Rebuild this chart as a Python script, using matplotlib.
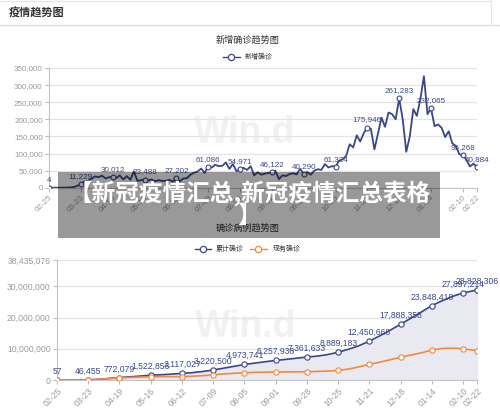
import numpy as np
import pandas as pd
import matplotlib
matplotlib.use('Agg')
import matplotlib.pyplot as plt
from matplotlib.patches import Rectangle

plt.rcParams['font.family'] = ['Liberation Sans', 'Noto Sans CJK SC']

# ---- data ----
# daily new cases, sampled every 3 days from 2020-02-25
new_cases = [
    4, 1, 20, 70, 120, 400, 800, 1800, 5500, 11229,
    18000, 20000, 26000, 33000, 31000, 35000, 27000, 31000, 30012, 28000,
    36000, 24000, 34000, 23000, 48000, 20000, 22000, 23488, 21000, 24000,
    19000, 22000, 20000, 20000, 23000, 18000, 27202, 19000, 27000, 28000,
    38000, 44000, 47000, 56000, 43000, 61086, 59000, 67000, 63000, 64000,
    74000, 55000, 69000, 48000, 54971, 58000, 52000, 63000, 36000, 45000,
    38000, 41000, 43000, 46122, 50000, 25000, 36000, 34000, 40000, 42000,
    39000, 55000, 40290, 46000, 38000, 50000, 54000, 52000, 69000, 59000,
    63000, 61324, 79000, 83000, 93000, 127000, 118000, 153000, 135000, 160000,
    175946, 172000, 112000, 158000, 205000, 178000, 220000, 215000, 200000, 261283,
    200000, 105000, 150000, 230000, 210000, 260000, 326000, 215000, 232065, 180000,
    185000, 175000, 148000, 165000, 130000, 122000, 98000, 95268, 82000, 62000,
    70000, 60884]

# cumulative / active cases, sampled every 9 days, last point 2021-02-22
total_cases = [
    57, 200, 2700, 46455, 210000, 500000, 772079, 1020000, 1260000, 1522853,
    1690000, 1870000, 2117027, 2350000, 2720000, 3220500, 3780000, 4380000, 4973741, 5420000,
    5850000, 6257938, 6620000, 6980000, 7361633, 7650000, 8150000, 8889183, 9850000, 11000000,
    12450668, 14150000, 15950000, 17888358, 19800000, 21800000, 23848410, 25400000, 26800000, 27897214,
    28828306]
active_cases = [
    50, 190, 2500, 45000, 190000, 450000, 620000, 820000, 950000, 1050000,
    1100000, 1050000, 1100000, 1200000, 1400000, 1620000, 1950000, 2150000, 2300000, 2450000,
    2500000, 2600000, 2600000, 2620000, 2650000, 2750000, 2850000, 3050000, 3500000, 4200000,
    5000000, 5700000, 6500000, 7300000, 8000000, 8700000, 9600000, 10100000, 10200000, 10000000,
    9400000]

tick_labels = ['02-25', '03-23', '04-19', '05-16', '06-12', '07-09', '08-05', '09-01',
               '09-28', '10-25', '11-21', '12-18', '01-14', '02-10', '02-22']
top_yticks = [0, 50000, 100000, 150000, 200000, 250000, 300000, 350000]
bottom_yticks = [0, 10000000, 20000000, 30000000, 38435076]

top_dates = pd.date_range('2020-02-25', periods=len(new_cases), freq='3D')
bottom_dates = pd.date_range('2020-02-25', '2021-02-10', freq='9D').append(
    pd.DatetimeIndex(['2021-02-22']))

top_marks = list(range(0, len(new_cases) - 1, 9)) + [len(new_cases) - 1]
bottom_marks = list(range(0, len(total_cases) - 1, 3)) + [len(total_cases) - 1]

navy = '#3a4786'
orange = '#f5883a'
grey_txt = '#9a9a9a'

W, H = 500, 412
fig = plt.figure(figsize=(5, 4.12), dpi=100)


def px_axes(x0, y0, x1, y1):
    return fig.add_axes([x0 / W, 1 - y1 / H, (x1 - x0) / W, (y1 - y0) / H])


def style_axes(ax, dates, marks, yticks):
    ax.set_xlim(dates[0], dates[-1])
    ax.set_ylim(0, yticks[-1])
    ax.set_yticks(yticks)
    ax.set_yticklabels([f'{v:,}' for v in yticks])
    ax.set_xticks(dates[marks])
    ax.set_xticklabels(tick_labels, rotation=45, ha='right', rotation_mode='anchor')
    ax.tick_params(axis='both', colors='#bbbbbb', labelcolor=grey_txt, labelsize=5.8,
                   length=3, width=0.8, pad=1.5)
    ax.grid(axis='y', color='#e4e4e4', lw=0.9)
    ax.set_axisbelow(True)
    for s in ['top', 'right']:
        ax.spines[s].set_visible(False)
    for s in ['left', 'bottom']:
        ax.spines[s].set_color('#c4c4c4')
        ax.spines[s].set_linewidth(0.8)


# ---- top chart: daily new ----
ax1 = px_axes(49, 68, 477, 187.7)
ax1.text(0.458, 0.46, 'Win.d', transform=ax1.transAxes, ha='center', va='center',
         fontsize=27, fontweight='bold', color='#f1f1f1', zorder=0)
ax1.plot(top_dates, new_cases, color=navy, lw=1.3, marker='o', markevery=top_marks,
         ms=3.5, mfc='white', mec=navy, mew=0.8, zorder=3)
for i in top_marks:
    ax1.annotate(f'{new_cases[i]:,}', (top_dates[i], new_cases[i]), xytext=(0, 3),
                 textcoords='offset points', ha='center', va='bottom',
                 fontsize=5.8, color=navy, zorder=4)
style_axes(ax1, top_dates, top_marks, top_yticks)

# ---- bottom chart: cumulative and active ----
ax2 = px_axes(57, 260, 477, 380)
ax2.text(0.448, 0.44, 'Win.d', transform=ax2.transAxes, ha='center', va='center',
         fontsize=27, fontweight='bold', color='#f1f1f1', zorder=0)
ax2.fill_between(bottom_dates, total_cases, color='#e9eaf1', zorder=1)
ax2.plot(bottom_dates, total_cases, color=navy, lw=1.2, marker='o', markevery=bottom_marks,
         ms=3.8, mfc='white', mec=navy, mew=0.8, zorder=3)
ax2.plot(bottom_dates, active_cases, color=orange, lw=1.2, marker='o', markevery=bottom_marks,
         ms=3.8, mfc='white', mec=orange, mew=0.8, zorder=3)
for i in bottom_marks:
    ax2.annotate(f'{total_cases[i]:,}', (bottom_dates[i], total_cases[i]), xytext=(0, 3),
                 textcoords='offset points', ha='center', va='bottom',
                 fontsize=6.2, color=navy, zorder=4, annotation_clip=False)
style_axes(ax2, bottom_dates, bottom_marks, bottom_yticks)
ax2.tick_params(axis='both', labelsize=6.2)

# ---- page furniture, in pixel coordinates ----
ov = fig.add_axes([0, 0, 1, 1])
ov.set_xlim(0, W)
ov.set_ylim(H, 0)
ov.axis('off')
ov.patch.set_alpha(0)

ov.plot([0, W], [25, 25], color='#dcdcdc', lw=0.9)
ov.plot([0, 490.5], [0.5, 0.5], color='#e6e6e6', lw=0.9)
ov.plot([490.5, 490.5], [0, 25], color='#e6e6e6', lw=0.9)
ov.text(9, 13, '疫情趋势图', fontsize=8, color='#333333', va='center',
        family='Noto Sans CJK SC', fontweight='bold')

cjk = ['Noto Sans CJK SC', 'DejaVu Sans']
ov.text(248, 40, '新增确诊趋势图', fontsize=6.6, color='#333333', ha='center', va='center', family=cjk)
ov.plot([222.7, 240], [57, 57], color=navy, lw=1)
ov.plot([231.3], [57], 'o', ms=4.5, mfc='white', mec=navy, mew=0.9)
ov.text(245, 57, '新增确诊', fontsize=5, color='#333333', va='center', family=cjk)

ov.text(248, 228, '确诊病例趋势图', fontsize=6.6, color='#333333', ha='center', va='center', family=cjk)
ov.plot([195, 211], [249.3, 249.3], color=navy, lw=1)
ov.plot([203], [249.3], 'o', ms=4.5, mfc='white', mec=navy, mew=0.9)
ov.text(216, 249.3, '累计确诊', fontsize=5, color='#333333', va='center', family=cjk)
ov.plot([250, 266.7], [249.3, 249.3], color=orange, lw=1)
ov.plot([258.3], [249.3], 'o', ms=4.5, mfc='white', mec=orange, mew=0.9)
ov.text(272.7, 249.3, '现有确诊', fontsize=5, color='#333333', va='center', family=cjk)

# grey banner laid over the page
ov.add_patch(Rectangle((58, 172), 382, 66, facecolor='black', alpha=0.4, lw=0, zorder=5))
ov.text(249, 193, '【新冠疫情汇总,新冠疫情汇总表格', fontsize=17, color='white', fontweight='bold',
        ha='center', va='center', family=cjk, zorder=6)
ov.text(249, 216, '】', fontsize=17, color='white', fontweight='bold',
        ha='center', va='center', family=cjk, zorder=6)

fig.savefig('out.png', dpi=100)
